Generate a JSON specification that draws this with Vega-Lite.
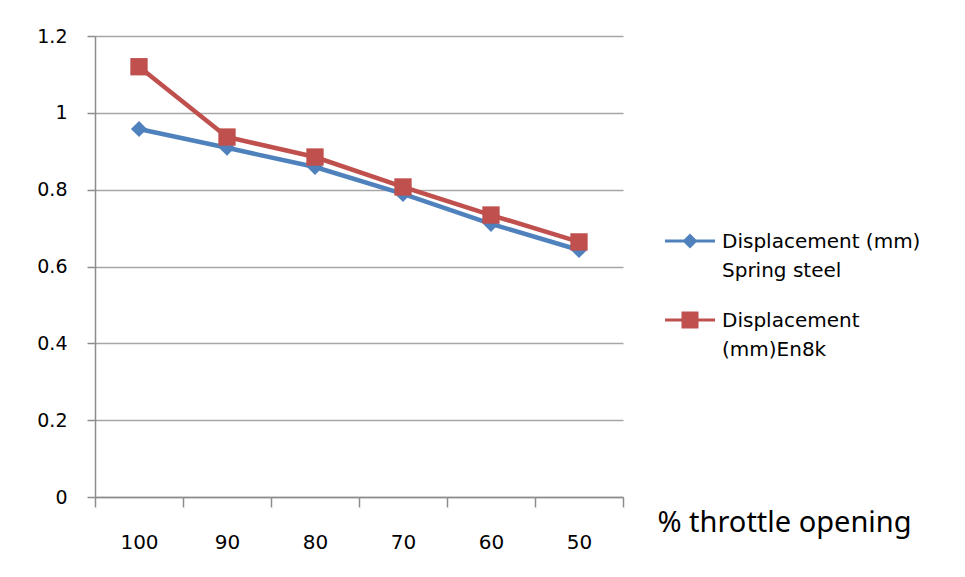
{
  "$schema": "https://vega.github.io/schema/vega-lite/v6.json",
  "autosize": {"type": "none"},
  "padding": {"left": 95, "top": 36, "right": 342, "bottom": 80},
  "width": 528,
  "height": 461,
  "background": "white",
  "config": {
    "view": {"stroke": null},
    "font": "DejaVu Sans",
    "axis": {"labelFont": "DejaVu Sans", "labelFontSize": 19, "labelColor": "#000000", "domainColor": "#8c8c8c", "tickColor": "#8c8c8c", "gridColor": "#a6a6a6", "domainWidth": 1.5, "tickWidth": 1.5, "gridWidth": 1.5}
  },
  "data": {
    "values": [
      {"throttle": 100, "series": "Displacement (mm)|Spring steel", "displacement": 0.958},
      {"throttle": 90, "series": "Displacement (mm)|Spring steel", "displacement": 0.909},
      {"throttle": 80, "series": "Displacement (mm)|Spring steel", "displacement": 0.859},
      {"throttle": 70, "series": "Displacement (mm)|Spring steel", "displacement": 0.789},
      {"throttle": 60, "series": "Displacement (mm)|Spring steel", "displacement": 0.711},
      {"throttle": 50, "series": "Displacement (mm)|Spring steel", "displacement": 0.643},
      {"throttle": 100, "series": "Displacement|(mm)En8k", "displacement": 1.12},
      {"throttle": 90, "series": "Displacement|(mm)En8k", "displacement": 0.937},
      {"throttle": 80, "series": "Displacement|(mm)En8k", "displacement": 0.885},
      {"throttle": 70, "series": "Displacement|(mm)En8k", "displacement": 0.807},
      {"throttle": 60, "series": "Displacement|(mm)En8k", "displacement": 0.734},
      {"throttle": 50, "series": "Displacement|(mm)En8k", "displacement": 0.664}
    ]
  },
  "encoding": {
    "x": {
      "field": "throttle", "type": "ordinal", "sort": "descending",
      "scale": {"paddingInner": 0, "paddingOuter": 0},
      "axis": {"labelAngle": 0, "tickBand": "extent", "tickSize": 10, "labelPadding": 35, "labelBaseline": "middle", "labelFontSize": 20,
        "title": "% throttle opening", "titleFont": "Noto Sans", "titleFontSize": 29, "titleFontWeight": "normal", "titleColor": "#000000",
        "titleX": 689, "titleY": 25, "titleBaseline": "middle", "titleAlign": "center"}
    },
    "y": {
      "field": "displacement", "type": "quantitative",
      "scale": {"domain": [0, 1.2]},
      "axis": {"values": [0, 0.2, 0.4, 0.6, 0.8, 1, 1.2], "format": ".1~f", "title": null, "tickSize": 8, "labelPadding": 20, "grid": true}
    },
    "color": {
      "field": "series", "type": "nominal",
      "scale": {"domain": ["Displacement (mm)|Spring steel", "Displacement|(mm)En8k"], "range": ["#4f81bd", "#c0504d"]},
      "legend": {
        "title": null, "orient": "none", "legendX": 570, "legendY": 180,
        "labelExpr": "split(datum.label, '|')", "labelFontSize": 20, "labelFont": "DejaVu Sans", "labelColor": "#000000", "labelLimit": 400,
        "labelBaseline": "alphabetic", "labelOffset": 7,
        "symbolSize": 2500, "symbolStrokeWidth": 0, "rowPadding": 14,
        "encode": {
          "symbols": {"update": {
            "shape": {"signal": "datum.value === 'Displacement (mm)|Spring steel' ? 'M-1,-0.06H1V0.06H-1ZM0,-0.3L0.3,0L0,0.3L-0.3,0Z' : 'M-1,-0.06H1V0.06H-1ZM-0.34,-0.34H0.34V0.34H-0.34Z'"},
            "fill": {"signal": "datum.value === 'Displacement (mm)|Spring steel' ? '#4f81bd' : '#c0504d'"},
            "fillOpacity": {"value": 1},
            "strokeWidth": {"value": 0},
            "size": {"value": 2500}
          }},
          "labels": {"update": {"lineHeight": {"value": 29}, "dy": {"value": 7}}}
        }
      }
    }
  },
  "layer": [
    {"mark": {"type": "line", "strokeWidth": 4.5}},
    {
      "transform": [{"filter": "datum.series === 'Displacement (mm)|Spring steel'"}],
      "mark": {"type": "point", "filled": true, "opacity": 1, "shape": "diamond", "size": 260}
    },
    {
      "transform": [{"filter": "datum.series === 'Displacement|(mm)En8k'"}],
      "mark": {"type": "point", "filled": true, "opacity": 1, "shape": "square", "size": 300}
    }
  ]
}
